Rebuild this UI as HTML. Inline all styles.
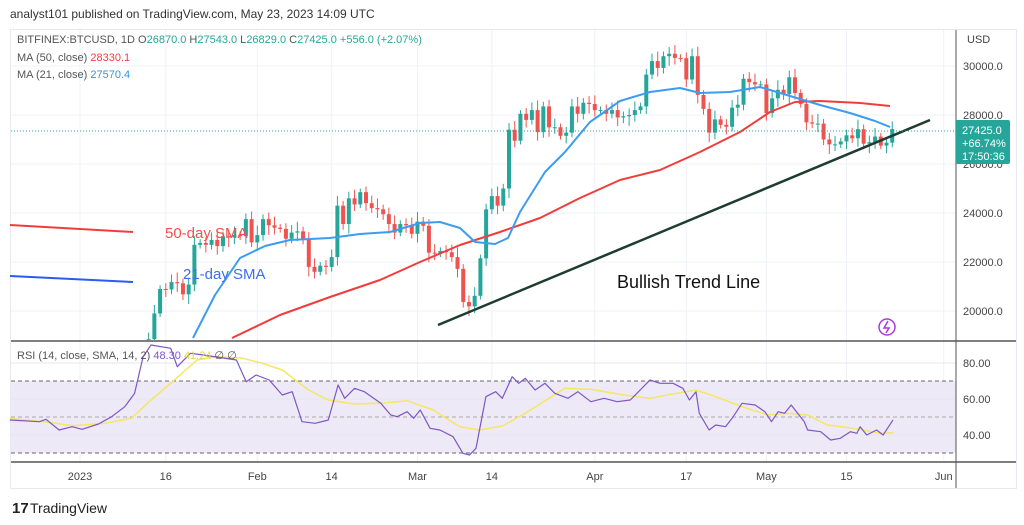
<!DOCTYPE html>
<html><head><meta charset="utf-8"><style>
body{margin:0;width:1024px;height:525px;background:#fff;overflow:hidden;font-family:"Liberation Sans",sans-serif}
svg{position:absolute;left:0;top:0}
</style></head><body>
<svg id="s" width="1024" height="525" xmlns="http://www.w3.org/2000/svg" font-family="Liberation Sans, sans-serif"></svg>
<script>
const s=document.getElementById('s');let h='';
const X=d=>80+d*5.72, Y=p=>66+(30000-p)*0.0245, R=v=>417-(v-50)*1.8;
h+='<defs><clipPath id="cm"><rect x="11" y="30" width="945" height="310"/></clipPath></defs>';
h+='<text x="10" y="18" font-size="12" fill="#333">analyst101 published on TradingView.com, May 23, 2023 14:09 UTC</text>';
h+='<rect x="10.5" y="29.5" width="1006" height="459" fill="none" stroke="#e6e9f0"/>';
const vt=[[0,'2023'],[15,'16'],[31,'Feb'],[44,'14'],[59,'Mar'],[72,'14'],[90,'Apr'],[106,'17'],[120,'May'],[134,'15'],[151,'Jun']];
vt.forEach(t=>{const x=X(t[0]);h+=`<line x1="${x}" y1="30" x2="${x}" y2="462" stroke="#eef1f7"/>`;h+=`<text x="${x}" y="480" font-size="11" fill="#444" text-anchor="middle">${t[1]}</text>`;});
[30000,28000,26000,24000,22000,20000].forEach(p=>{h+=`<line x1="11" y1="${Y(p)}" x2="956" y2="${Y(p)}" stroke="#eef1f7"/><text x="963" y="${Y(p)+4}" font-size="11" fill="#444">${p}.0</text>`;});
h+='<text x="967" y="43" font-size="11" fill="#444">USD</text>';
h+=`<rect x="11" y="${R(70)}" width="945" height="${R(30)-R(70)}" fill="#ede9f7"/>`;
[80,60,40].forEach(v=>{h+=`<line x1="11" y1="${R(v)}" x2="956" y2="${R(v)}" stroke="#e4e6ef"/><text x="963" y="${R(v)+4}" font-size="11" fill="#444">${v}.00</text>`;});
[70,50,30].forEach(v=>{h+=`<line x1="11" y1="${R(v)}" x2="956" y2="${R(v)}" stroke="${v==50?'#aaa':'#666'}" stroke-dasharray="4,3"/>`;});
h+='<line x1="11" y1="341" x2="1016" y2="341" stroke="#555" stroke-width="1.5"/><line x1="11" y1="462" x2="1016" y2="462" stroke="#555" stroke-width="1.5"/>';
h+='<line x1="956" y1="30" x2="956" y2="488" stroke="#555"/>';
const C={11:17900,12:18850,13:19900,14:20900,15:20880,16:21180,17:21130,18:20680,19:21080,20:22700,21:22780,22:22700,23:22900,24:22650,25:23050,26:23000,27:23100,28:23050,29:23750,30:22800,31:23100,32:23750,33:23500,34:23400,35:23350,36:22950,37:23200,38:23250,39:22950,40:21800,41:21600,42:21850,43:21800,44:22200,45:24300,46:23550,47:24600,48:24350,49:24850,50:24400,51:24200,52:24150,53:23950,54:23550,55:23200,56:23550,57:23500,58:23150,59:23650,60:23480,61:22380,62:22350,63:22450,64:22400,65:22200,66:21720,67:20370,68:20190,69:20620,70:22150,71:24150,72:24690,73:24300,74:25000,75:27400,76:26950,77:28050,78:27800,79:28200,80:27300,81:28350,82:27500,83:27500,84:27150,85:27280,86:28350,87:28050,88:28500,89:28450,90:28200,91:28200,92:28050,93:28200,94:27900,95:27950,96:28000,97:28200,98:28350,99:29650,100:30200,101:29920,102:30400,103:30500,104:30330,105:30320,106:29450,107:30400,108:28820,109:28250,110:27280,111:27820,112:27600,113:27520,114:28300,115:28420,116:29480,117:29340,118:29250,119:29250,120:28080,121:28680,122:29030,123:28850,124:29540,125:28900,126:28450,127:27700,128:27650,129:27650,130:27000,131:26800,132:26800,133:26920,134:27170,135:27050,136:27420,137:26830,138:26890,139:27120,140:26750,141:26870,142:27425};
let prev=16800;
h+='<g clip-path="url(#cm)">';
for(let d=11;d<=142;d++){const c=C[d],o=prev;prev=c;const up=c>=o;const col=up?'#26a69a':'#ef5350';
const hi=Math.max(o,c)+150+((d*37)%7)*40,lo=Math.min(o,c)-150-((d*53)%7)*40;const x=X(d);
const yt=Math.min(Y(o),Y(c)),hh=Math.max(1,Math.abs(Y(o)-Y(c)));
h+=`<line x1="${x}" y1="${Y(hi)}" x2="${x}" y2="${Y(lo)}" stroke="${col}"/><rect x="${x-2}" y="${yt}" width="4" height="${hh}" fill="${col}"/>`;}
h+='</g>';
const pl=(pts,col,w)=>`<polyline points="${pts.map(p=>p.join(',')).join(' ')}" fill="none" stroke="${col}" stroke-width="${w}" stroke-linejoin="round"/>`;
h+=pl([[232,338],[280,315],[330,297],[380,280],[420,262],[460,245],[500,232],[540,218],[580,198],[620,180],[660,170],[700,152],[740,132],[770,112],[795,102],[820,101],[860,103],[890,106]],'#f23c3c',2);
h+=pl([[193,338],[215,295],[240,258],[265,246],[290,240],[330,238],[360,234],[390,232],[420,223],[440,222],[460,228],[475,242],[495,244],[508,238],[520,212],[545,172],[565,152],[590,122],[620,101],[650,92],[680,88],[700,93],[730,92],[760,87],[790,96],[820,105],[850,113],[875,121],[890,127]],'#3d9cf0',2);
h+=pl([[10,225],[133,232]],'#f23c3c',2);
h+=pl([[10,276],[133,282]],'#2b5bf2',2);
h+='<line x1="438" y1="325" x2="930" y2="120" stroke="#1e3d2f" stroke-width="2.5"/>';
h+='<line x1="11" y1="131" x2="956" y2="131" stroke="#26a69a" stroke-dasharray="1,2"/>';
h+='<text x="165" y="238" font-size="15" fill="#f05050">50-day SMA</text><text x="183" y="279" font-size="15" fill="#3c6ef0">21-day SMA</text>';
h+='<text x="617" y="288" font-size="18" fill="#111">Bullish Trend Line</text>';
h+='<circle cx="887" cy="327" r="8" fill="none" stroke="#a83ad6" stroke-width="1.5"/><path d="M888 321 L884 328 L889 328 L886 333" fill="none" stroke="#a83ad6" stroke-width="1.5"/>';
h+='<rect x="956" y="120" width="54" height="44" rx="2" fill="#26a69a"/><text x="962" y="134" font-size="11" fill="#fff">27425.0</text><text x="962" y="147" font-size="11" fill="#fff">+66.74%</text><text x="962" y="160" font-size="11" fill="#fff">17:50:36</text>';
h+='<text x="17" y="43" font-size="11" fill="#555">BITFINEX:BTCUSD, 1D <tspan>O</tspan><tspan fill="#26a69a">26870.0</tspan>  H<tspan fill="#26a69a">27543.0</tspan>  L<tspan fill="#26a69a">26829.0</tspan>  C<tspan fill="#26a69a">27425.0</tspan>  <tspan fill="#26a69a">+556.0 (+2.07%)</tspan></text>';
h+='<text x="17" y="61" font-size="11" fill="#555">MA (50, close)  <tspan fill="#f23c3c">28330.1</tspan></text>';
h+='<text x="17" y="78" font-size="11" fill="#555">MA (21, close)  <tspan fill="#2b96f2">27570.4</tspan></text>';
const pu=[[15,270],[60,275],[70,268],[90,300],[110,290],[125,298],[150,282],[170,260],[190,230],[205,190],[218,80],[230,45],[260,55],[270,110],[290,70],[310,75],[360,90],[375,155],[390,135],[410,150],[430,195],[445,185],[460,275],[480,280],[500,270],[515,165],[525,205],[540,175],[555,185],[580,220],[595,255],[605,260],[620,245],[630,265],[640,240],[655,295],[670,300],[690,320],[705,370],[715,375],[725,355],[740,200],[755,185],[765,205],[780,140],[790,160],[800,145],[815,180],[830,160],[845,190],[865,205],[880,185],[900,215],[920,205],[940,215],[960,210],[975,180],[990,150],[1005,160],[1025,160],[1040,175],[1050,210],[1060,185],[1065,250],[1080,300],[1090,285],[1105,290],[1115,265],[1130,220],[1150,225],[1165,245],[1175,275],[1185,245],[1195,250],[1205,225],[1225,275],[1230,300],[1250,305],[1265,330],[1280,325],[1295,305],[1305,310],[1310,290],[1320,315],[1335,300],[1345,315],[1360,270]];
const ye=[[15,265],[80,278],[110,287],[160,280],[200,265],[230,210],[260,160],[300,90],[330,80],[370,85],[400,100],[430,120],[470,180],[500,210],[540,222],[580,220],[620,212],[660,240],[700,290],[730,300],[765,288],[800,250],[840,200],[860,175],[900,178],[950,195],[990,205],[1030,190],[1060,180],[1090,200],[1130,230],[1170,255],[1200,250],[1230,255],[1260,285],[1300,295],[1340,310],[1360,308]];
const cv=a=>a.map(p=>[(p[0]/1.523).toFixed(1),(330+p[1]/3).toFixed(1)]);
h+=pl(cv(ye),'#f5e663',1.5);
h+=pl(cv(pu),'#7e57c2',1.2);
h+='<text x="17" y="359" font-size="11" fill="#555">RSI (14, close, SMA, 14, 2)  <tspan fill="#7e57c2">48.30</tspan>  <tspan fill="#e8d84a">41.24</tspan>  ∅  ∅</text>';
h+='<text x="12" y="513" font-size="15" font-weight="bold" fill="#222">17</text><text x="30" y="513" font-size="14" fill="#222">TradingView</text>';
s.innerHTML=h;
</script>
</body></html>
